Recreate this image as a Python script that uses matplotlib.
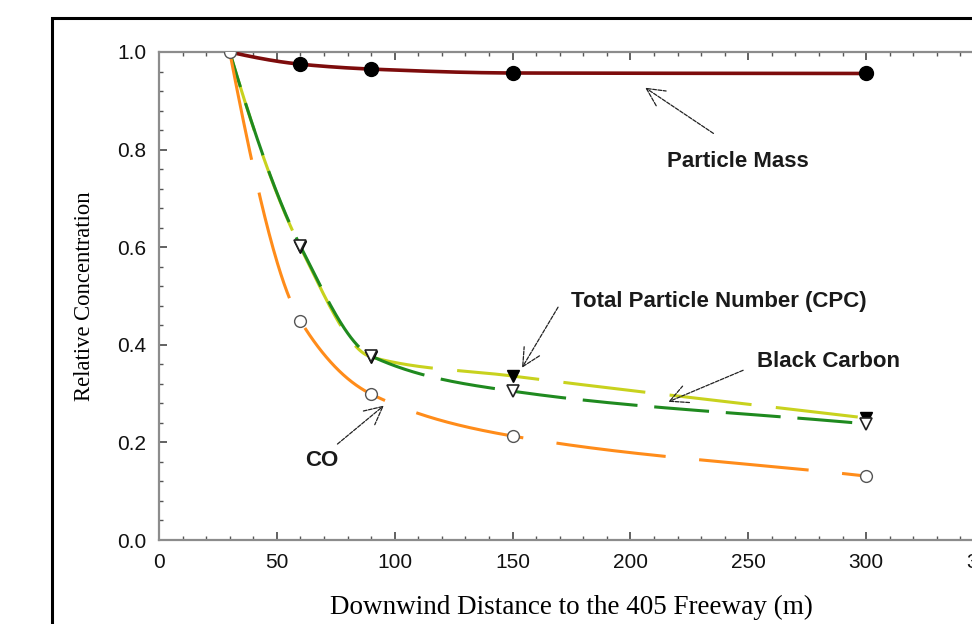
import numpy as np
import matplotlib
matplotlib.use('Agg')
import matplotlib.pyplot as plt
from matplotlib.patches import Rectangle
from matplotlib.ticker import MultipleLocator

# data
dist = [30, 60, 90, 150, 300]
mass = [1.0, 0.975, 0.965, 0.957, 0.956]
co = [1.0, 0.449, 0.299, 0.213, 0.131]
bc = [1.0, 0.602, 0.377, 0.305, 0.238]
cpc = [1.0, 0.600, 0.375, 0.336, 0.250]

# label text, label position, arrow head position, arrow tail position
notes = [
    ('Particle Mass', (245.5, 0.775), (205.3, 0.930), (236.2, 0.830)),
    ('Total Particle Number (CPC)', (237.5, 0.488), (153.4, 0.348), (169.9, 0.482)),
    ('Black Carbon', (284.0, 0.365), (215.0, 0.281), (248.9, 0.350)),
    ('CO', (68.9, 0.162), (96.3, 0.279), (74.8, 0.193)),
]


def smooth(x, y, xs):
    # monotone cubic through the points, only for drawing a smooth line
    x = np.asarray(x, float)
    y = np.asarray(y, float)
    h = np.diff(x)
    d = np.diff(y) / h
    n = len(x)
    m = np.zeros(n)
    for k in range(1, n - 1):
        if d[k - 1] * d[k] > 0:
            w1 = 2 * h[k] + h[k - 1]
            w2 = h[k] + 2 * h[k - 1]
            m[k] = (w1 + w2) / (w1 / d[k - 1] + w2 / d[k])
    m[0] = ((2 * h[0] + h[1]) * d[0] - h[0] * d[1]) / (h[0] + h[1])
    if np.sign(m[0]) != np.sign(d[0]):
        m[0] = 0
    m[-1] = d[-1]
    idx = np.clip(np.searchsorted(x, xs) - 1, 0, n - 2)
    t = (xs - x[idx]) / h[idx]
    h00 = 2 * t**3 - 3 * t**2 + 1
    h10 = t**3 - 2 * t**2 + t
    h01 = -2 * t**3 + 3 * t**2
    h11 = t**3 - t**2
    return h00 * y[idx] + h10 * h[idx] * m[idx] + h01 * y[idx + 1] + h11 * h[idx] * m[idx + 1]


xs = np.linspace(dist[0], dist[-1], 600)

fig = plt.figure(figsize=(9.72, 6.24), dpi=100)
ax = fig.add_axes([159 / 972, 1 - 540 / 624, (984 - 159) / 972, (540 - 52) / 624])

# outer frame of the original picture
fig.add_artist(Rectangle((52 / 972, -0.2), 1.2, 0.2 + 1 - 18 / 624,
                         transform=fig.transFigure, fill=False,
                         edgecolor='black', lw=2.2))

# lines
ax.plot(xs, smooth(dist, mass, xs), color='#7d0c0c', lw=2.6, zorder=3)
ax.plot(xs, smooth(dist, cpc, xs), color='#c8d21e', lw=2.2,
        linestyle=(0, (27, 8)), zorder=2)
ax.plot(xs, smooth(dist, bc, xs), color='#1f8a1f', lw=2.2,
        linestyle=(6, (18, 5.5)), zorder=2)
ax.plot(xs, smooth(dist, co, xs), color='#ff8c1a', lw=2.2,
        linestyle=(0, (36, 11)), zorder=2)

# markers
ax.plot(dist, mass, linestyle='none', marker='o', ms=10, mfc='black',
        mec='black', markevery=slice(1, None), zorder=5)
ax.plot(dist, cpc, linestyle='none', marker='v', ms=9, mfc='black',
        mec='black', markevery=slice(1, None), zorder=5)
ax.plot(dist, bc, linestyle='none', marker='v', ms=9, mfc='white',
        mec='#222222', mew=1.2, zorder=6)
ax.plot(dist, co, linestyle='none', marker='o', ms=8.5, mfc='white',
        mec='#555555', mew=1.0, zorder=6)

for txt, tpos, head, tail in notes:
    ax.annotate('', xy=head, xytext=tail,
                arrowprops=dict(arrowstyle='->', color='#222222', lw=0.9,
                                linestyle=(0, (3, 1.2)), mutation_scale=32))
    ax.text(tpos[0], tpos[1], txt, ha='center', va='center',
            fontsize=16, fontweight='bold', family='Liberation Sans',
            color='#1a1a1a')

ax.set_xlim(0, 350)
ax.set_ylim(0, 1.0)
ax.xaxis.set_major_locator(MultipleLocator(50))
ax.xaxis.set_minor_locator(MultipleLocator(10))
ax.yaxis.set_major_locator(MultipleLocator(0.2))
ax.yaxis.set_minor_locator(MultipleLocator(0.04))
ax.yaxis.set_major_formatter(matplotlib.ticker.FormatStrFormatter('%.1f'))

for s in ['left', 'bottom', 'top']:
    ax.spines[s].set_color('#8c8c8c')
    ax.spines[s].set_linewidth(1.6)
ax.spines['right'].set_visible(False)

ax.tick_params(which='both', direction='in', top=True, right=False,
               color='#555555', labelcolor='#111111')
ax.tick_params(which='major', length=6, width=1.3, labelsize=15, pad=9)
ax.tick_params(which='minor', length=3, width=1.0)
for lab in ax.get_xticklabels() + ax.get_yticklabels():
    lab.set_family('Liberation Sans')

ax.set_xlabel('Downwind Distance to the 405 Freeway (m)', family='Liberation Serif',
              fontsize=19.5, labelpad=17)
ax.set_ylabel('Relative Concentration', family='Liberation Serif',
              fontsize=16.3, labelpad=16)

fig.savefig('out.png', dpi=100)
